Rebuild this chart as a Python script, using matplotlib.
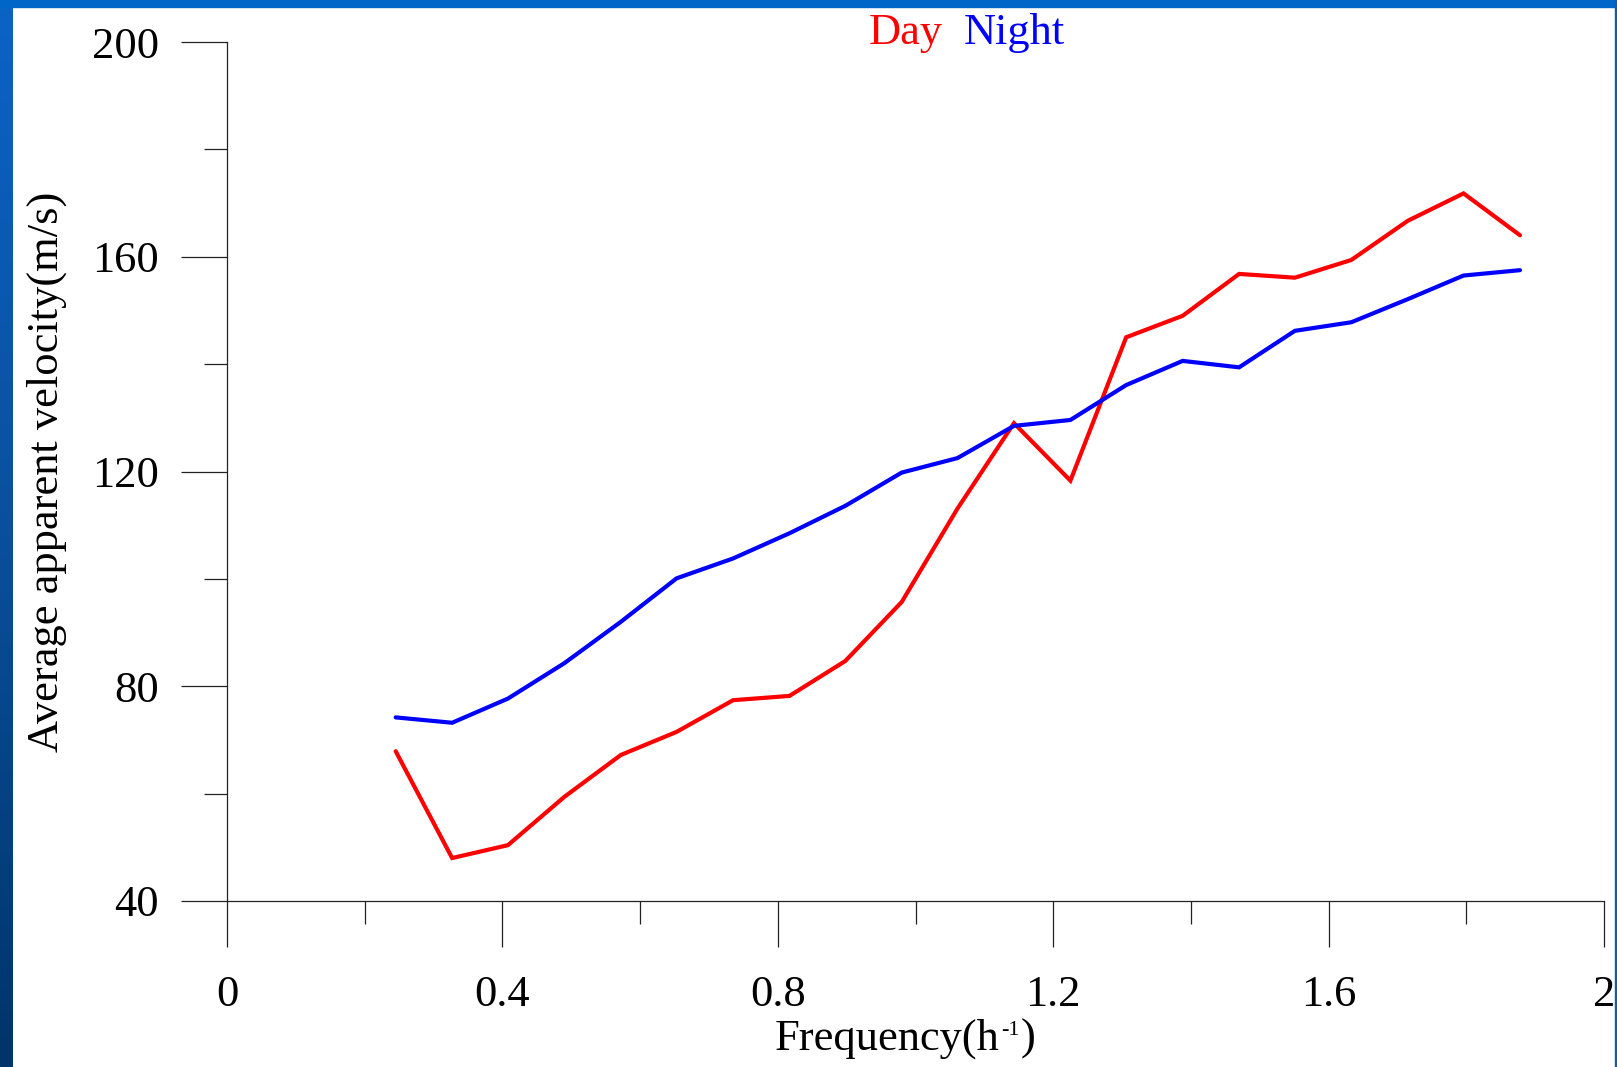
import matplotlib
matplotlib.use("Agg")
import matplotlib.pyplot as plt
import matplotlib.ticker as ticker
import numpy as np

plt.rcParams.update({
    "font.family": ["Liberation Serif", "DejaVu Serif"],
    "font.size": 32,
})

# Frequency (1/h) and mean apparent velocity (m/s)
freq = [0.245, 0.327, 0.408, 0.490, 0.572, 0.653, 0.735, 0.817, 0.898, 0.980, 1.061,
        1.143, 1.225, 1.306, 1.388, 1.470, 1.551, 1.633, 1.715, 1.796, 1.878]
v_day = [67.9, 48.0, 50.4, 59.4, 67.2, 71.5, 77.4, 78.2, 84.7, 95.7, 113.1,
         129.0, 118.3, 145.0, 149.0, 156.8, 156.1, 159.4, 166.7, 171.8, 164.0]
v_night = [74.2, 73.2, 77.7, 84.3, 92.0, 100.1, 103.8, 108.5, 113.6, 119.8, 122.5,
           128.5, 129.6, 136.1, 140.6, 139.4, 146.2, 147.8, 152.1, 156.5, 157.5]

W, H = 1617, 1067
fig = plt.figure(figsize=(W / 100, H / 100), dpi=100, facecolor="white")

# slide frame: blue bar on top, gradient strip on the left, thin line on the right
fig.patches.append(plt.Rectangle((0, 1 - 7 / H), 1, 7 / H, transform=fig.transFigure,
                                 color="#0066c8", zorder=0))
fig.patches.append(plt.Rectangle((1 - 2 / W, 0), 2 / W, 1, transform=fig.transFigure,
                                 color="#0a5cb8", zorder=0))
strip = fig.add_axes([0, 0, 12 / W, 1 - 7 / H])
grad = np.linspace(0, 1, 256).reshape(-1, 1)
cmap = matplotlib.colors.LinearSegmentedColormap.from_list(
    "slide", ["#0b63c6", "#0a4f9c", "#00346a"])
strip.imshow(grad, aspect="auto", cmap=cmap)
strip.set_axis_off()

ax = fig.add_axes([227 / W, 1 - 901 / H, (1604 - 227) / W, (901 - 42) / H])
ax.plot(freq, v_day, color="#ff0000", linewidth=3.0, solid_capstyle="round",
        solid_joinstyle="miter")
ax.plot(freq, v_night, color="#0000ff", linewidth=3.0, solid_capstyle="round",
        solid_joinstyle="miter")

ax.set_xlim(0, 2)
ax.set_ylim(40, 200)
for side in ("top", "right"):
    ax.spines[side].set_visible(False)
for side in ("left", "bottom"):
    ax.spines[side].set_linewidth(0.9)
    ax.spines[side].set_color("#222222")

ax.xaxis.set_major_locator(ticker.MultipleLocator(0.4))
ax.xaxis.set_minor_locator(ticker.MultipleLocator(0.2))
ax.yaxis.set_major_locator(ticker.MultipleLocator(40))
ax.yaxis.set_minor_locator(ticker.MultipleLocator(20))
ax.xaxis.set_major_formatter(ticker.FuncFormatter(lambda v, p: f"{v:g}"))
ax.yaxis.set_major_formatter(ticker.FuncFormatter(lambda v, p: f"{v:g}"))
ax.tick_params(which="major", direction="out", length=33, width=0.9, color="#222222",
               labelsize=32)
ax.tick_params(which="minor", direction="out", length=16.5, width=0.9, color="#222222")
ax.tick_params(axis="x", which="major", pad=20)
ax.tick_params(axis="y", which="major", pad=16)

ax.set_ylabel("Average apparent velocity(m/s)", fontsize=32, labelpad=18)

# x label with a small raised "-1", assembled piece by piece
renderer = fig.canvas.get_renderer()
base_y = 1 - 1050 / H
t1 = fig.text(775 / W, base_y, "Frequency(h", fontsize=32, va="baseline", ha="left")
x1 = t1.get_window_extent(renderer).x1 / W
t2 = fig.text(x1 + 1 / W, base_y + 15 / H, "-1", fontsize=16, va="baseline", ha="left")
x2 = t2.get_window_extent(renderer).x1 / W
fig.text(x2 + 1 / W, base_y, ")", fontsize=32, va="baseline", ha="left")

fig.text(869 / W, 1 - 33 / H, "Day", color="#ff0000", fontsize=32, va="center", ha="left")
fig.text(964 / W, 1 - 33 / H, "Night", color="#0000ff", fontsize=32, va="center", ha="left")

fig.savefig("out.png", dpi=100, facecolor=fig.get_facecolor())
